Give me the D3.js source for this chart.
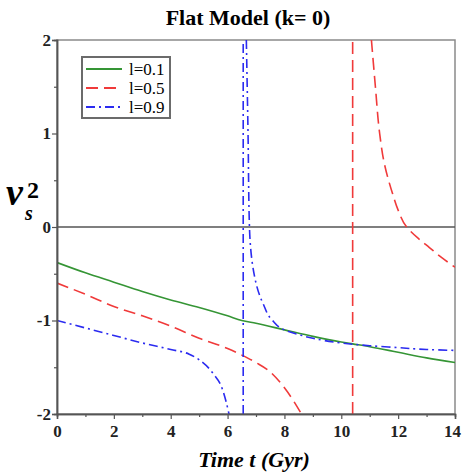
<!DOCTYPE html>
<html>
<head>
<meta charset="utf-8">
<script src="https://cdn.jsdelivr.net/npm/d3@7"></script>
<style>
  body { margin: 0; background: #fff; }
  svg { display: block; }
</style>
</head>
<body>
<div id="chart"></div>
<script>
// series (t in Gyr, v_s^2)
const green01 = [[0,-0.38],[1,-0.49],[2,-0.59],[3,-0.69],[4,-0.78],[5,-0.86],[6,-0.95],[6.5,-1.0],[7,-1.03],[8,-1.1],[9,-1.17],[10,-1.23],[10.4,-1.25],[11,-1.28],[12,-1.34],[13,-1.4],[14,-1.45]];
const red05Left = [[0,-0.6],[1,-0.72],[2,-0.85],[3,-0.95],[4,-1.06],[5,-1.19],[6,-1.3],[6.5,-1.37],[7,-1.45],[7.5,-1.55],[8,-1.72],[8.3,-1.85],[8.6,-2.0]];
const red05Right = [[11.06,2.0],[11.2,1.5],[11.35,1.0],[11.5,0.7],[11.8,0.36],[12.0,0.18],[12.3,0.0],[12.7,-0.12],[13.1,-0.22],[13.5,-0.32],[14,-0.43]];
const blue09Left = [[0,-1.0],[1,-1.08],[2,-1.16],[3,-1.24],[4,-1.31],[4.65,-1.36],[5,-1.42],[5.5,-1.57],[5.8,-1.72],[5.95,-1.87],[6.05,-2.0]];
const blue09Right = [[6.66,2.0],[6.72,1.0],[6.77,0.0],[7.0,-0.6],[7.25,-0.82],[7.58,-1.0],[8,-1.1],[8.5,-1.15],[9,-1.19],[10,-1.24],[11,-1.27],[12,-1.29],[13,-1.31],[14,-1.32]];
const asymptotes = [{ key: 'l=0.9', t: 6.55 }, { key: 'l=0.5', t: 10.4 }];

const xTicks = [0, 2, 4, 6, 8, 10, 12, 14];
const yTicks = [2, 1, 0, -1, -2];

const styles = {
  'l=0.1': { color: '#359535', dash: null },
  'l=0.5': { color: '#f03a3a', dash: '12,6' },
  'l=0.9': { color: '#2b2bf0', dash: '9,4,2,4' }
};

const width = 462, height = 474;
const margin = { top: 40, right: 7, bottom: 60, left: 57 };
const innerW = width - margin.left - margin.right;
const innerH = height - margin.top - margin.bottom;

const svg = d3.select('#chart').append('svg')
  .attr('width', width)
  .attr('height', height);

const x = d3.scaleLinear().domain([0, 14]).range([0, innerW]);
const y = d3.scaleLinear().domain([-2, 2]).range([innerH, 0]);

const mg = svg.append('g')
  .attr('transform', `translate(${margin.left},${margin.top})`);

// frame (top and right)
mg.append('rect')
  .attr('width', innerW).attr('height', innerH)
  .attr('fill', 'none').attr('stroke', '#8a8a8a').attr('stroke-width', 1.5);

// zero line
mg.append('line')
  .attr('x1', 0).attr('x2', innerW)
  .attr('y1', y(0)).attr('y2', y(0))
  .attr('stroke', '#555').attr('stroke-width', 1.5);

mg.append('clipPath').attr('id', 'clip')
  .append('rect').attr('width', innerW).attr('height', innerH);

const plot = mg.append('g').attr('clip-path', 'url(#clip)');

const line = d3.line().x(d => x(d[0])).y(d => y(d[1])).curve(d3.curveMonotoneX);
const lineY = d3.line().x(d => x(d[0])).y(d => y(d[1])).curve(d3.curveMonotoneY);

const drawn = [
  { key: 'l=0.1', data: green01, gen: line },
  { key: 'l=0.5', data: red05Left, gen: line },
  { key: 'l=0.5', data: red05Right, gen: lineY },
  { key: 'l=0.9', data: blue09Left, gen: line },
  { key: 'l=0.9', data: blue09Right, gen: lineY }
];

plot.selectAll('path.series')
  .data(drawn)
  .join('path')
  .attr('class', 'series')
  .attr('d', d => d.gen(d.data))
  .attr('fill', 'none')
  .attr('stroke', d => styles[d.key].color)
  .attr('stroke-width', 1.6)
  .attr('stroke-dasharray', d => styles[d.key].dash);

plot.selectAll('line.asym')
  .data(asymptotes)
  .join('line')
  .attr('class', 'asym')
  .attr('x1', d => x(d.t)).attr('x2', d => x(d.t))
  .attr('y1', y(-2)).attr('y2', y(2))
  .attr('stroke', d => styles[d.key].color)
  .attr('stroke-width', 1.6)
  .attr('stroke-dasharray', d => styles[d.key].dash);

// axes
const fontAxis = '"Liberation Serif", "Times New Roman", serif';

const xAxis = mg.append('g')
  .attr('transform', `translate(0,${innerH})`)
  .call(d3.axisBottom(x).tickValues(xTicks).tickSize(5).tickFormat(d3.format('d')));
mg.append('g')
  .attr('transform', `translate(0,${innerH})`)
  .call(d3.axisBottom(x).tickValues(d3.range(1, 14, 2)).tickSize(3).tickFormat(''));

const yAxis = mg.append('g')
  .call(d3.axisLeft(y).tickValues(yTicks).tickSize(5).tickFormat(d => d < 0 ? '-' + Math.abs(d) : d));
mg.append('g')
  .call(d3.axisLeft(y).tickValues([1.5, 0.5, -0.5, -1.5]).tickSize(3).tickFormat(''));

mg.selectAll('.domain').attr('stroke', '#555').attr('stroke-width', 1.5);
mg.selectAll('.tick line').attr('stroke', '#555').attr('stroke-width', 1.2);
mg.selectAll('.tick text')
  .attr('font-family', fontAxis)
  .attr('font-weight', 'bold')
  .attr('fill', '#222');
xAxis.selectAll('.tick text').attr('font-size', 17).attr('dy', '0.9em')
  .attr('dx', d => d === 14 ? -3 : 0);
yAxis.selectAll('.tick text').attr('font-size', 17).attr('x', -6);

// title
svg.append('text')
  .attr('x', 248).attr('y', 25)
  .attr('text-anchor', 'middle')
  .attr('font-family', fontAxis)
  .attr('font-size', 22)
  .attr('font-weight', 'bold')
  .text('Flat Model (k= 0)');

// x label
svg.append('text')
  .attr('x', 254).attr('y', 467)
  .attr('text-anchor', 'middle')
  .attr('font-family', fontAxis)
  .attr('font-size', 22)
  .attr('font-weight', 'bold')
  .attr('font-style', 'italic')
  .text('Time t (Gyr)');

// y label v_s^2
const yl = svg.append('text')
  .attr('font-family', fontAxis)
  .attr('font-weight', 'bold')
  .attr('font-style', 'italic');
yl.append('tspan').attr('x', 6).attr('y', 205).attr('font-size', 38).text('v');
yl.append('tspan').attr('x', 27).attr('y', 198).attr('font-size', 24).attr('font-style', 'normal').text('2');
yl.append('tspan').attr('x', 25).attr('y', 220).attr('font-size', 20).text('s');

// legend
const legendItems = ['l=0.1', 'l=0.5', 'l=0.9'];
const lg = svg.append('g').attr('transform', 'translate(82,57)');
lg.append('rect')
  .attr('width', 88).attr('height', 61)
  .attr('fill', '#fff').attr('stroke', '#6b6b6b').attr('stroke-width', 2);
const li = lg.selectAll('g.item')
  .data(legendItems)
  .join('g')
  .attr('class', 'item')
  .attr('transform', (d, i) => `translate(0,${12 + i * 19})`);
li.append('line')
  .attr('x1', 4).attr('x2', 40)
  .attr('stroke', d => styles[d].color)
  .attr('stroke-width', 1.8)
  .attr('stroke-dasharray', d => styles[d].dash);
li.append('text')
  .attr('x', 47).attr('dy', '0.35em')
  .attr('font-family', fontAxis)
  .attr('font-size', 17)
  .text(d => d);
</script>
</body>
</html>
